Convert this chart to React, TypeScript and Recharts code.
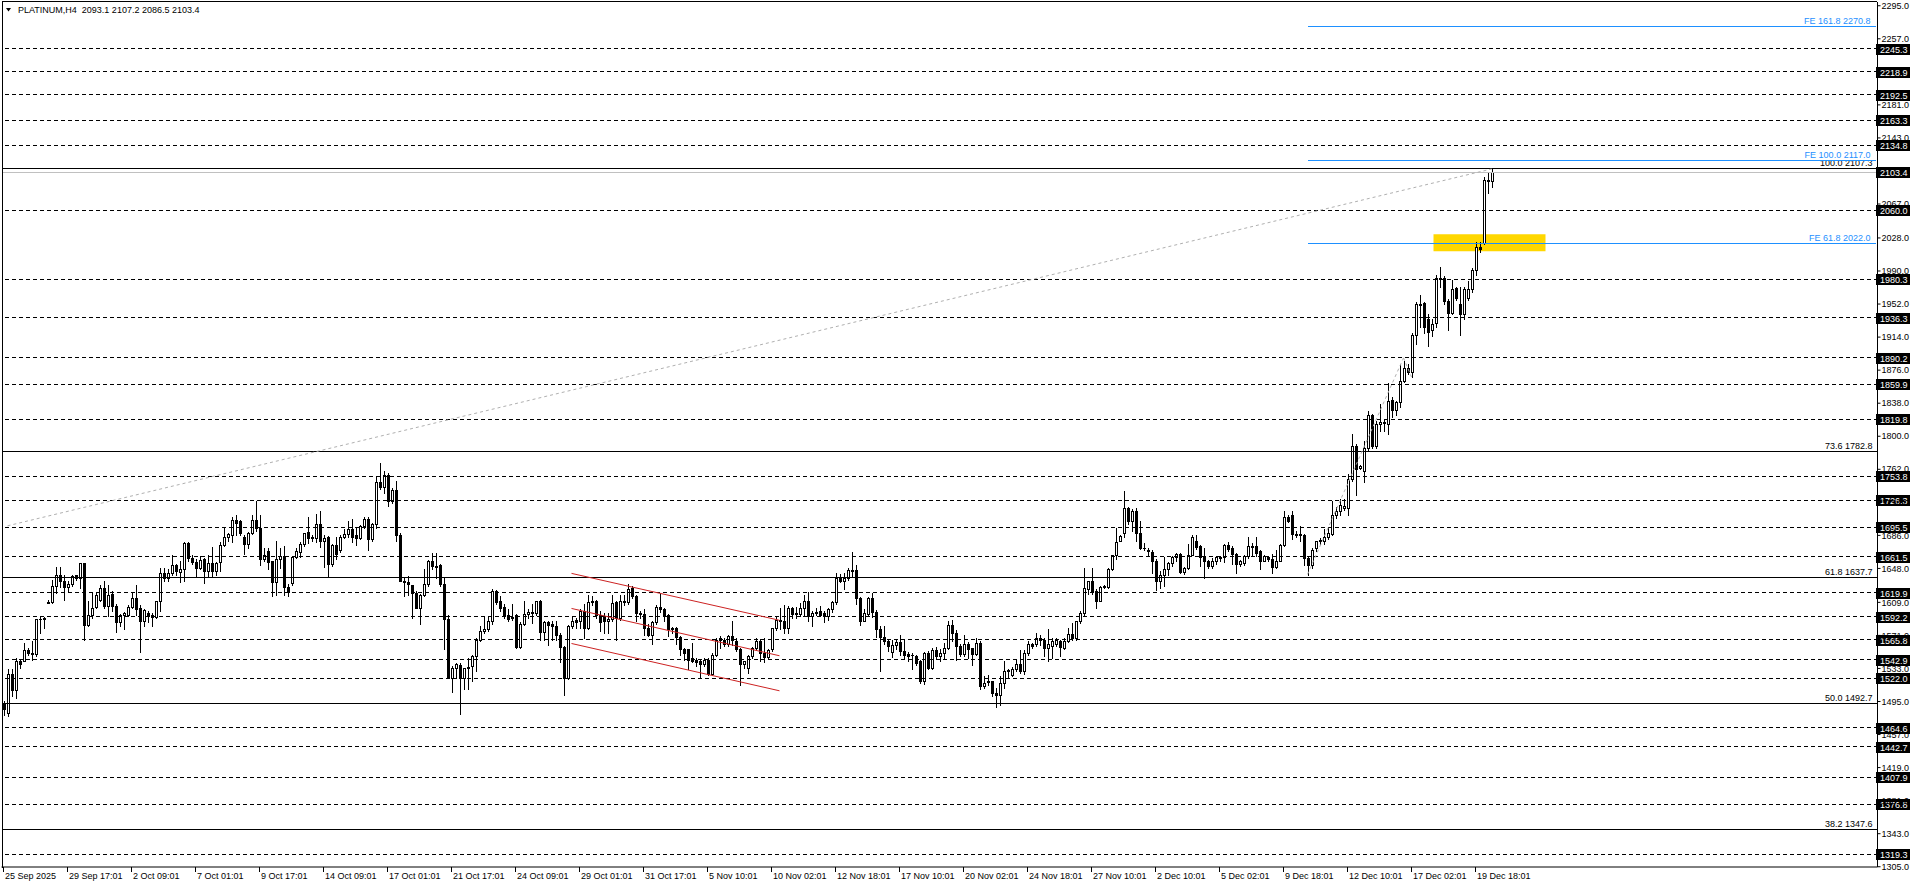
import React from 'react';
import { ComposedChart, Bar, XAxis, YAxis, ReferenceLine, ReferenceArea } from 'recharts';

const FONT = '"Liberation Sans", Arial, sans-serif';

// ---- H4 candles, PLATINUM (bars 0..372) ----
const opens = [
  1492,1482,1527,1508,1541,1542,1554,1551,1550,1590,
  1590,1608,1609,1628,1640,1634,1627,1630,1640,1637,
  1654,1583,1594,1604,1612,1626,1605,1619,1605,1586,
  1595,1595,1604,1614,1602,1587,1597,1595,1592,1610,
  1643,1637,1643,1652,1644,1647,1677,1660,1655,1649,
  1659,1645,1654,1645,1655,1675,1684,1687,1704,1703,
  1684,1676,1689,1704,1694,1659,1668,1656,1632,1659,
  1662,1627,1631,1661,1667,1676,1690,1684,1683,1699,
  1679,1684,1653,1675,1669,1684,1688,1693,1687,1683,
  1697,1705,1682,1699,1747,1742,1755,1725,1738,1687,
  1634,1632,1629,1620,1603,1618,1630,1657,1651,1652,
  1630,1590,1522,1534,1537,1522,1533,1536,1547,1566,
  1576,1578,1588,1622,1610,1604,1595,1592,1595,1558,
  1584,1596,1597,1597,1611,1575,1586,1584,1582,1572,
  1558,1522,1582,1589,1588,1599,1580,1609,1611,1595,
  1593,1588,1590,1609,1591,1610,1609,1626,1616,1597,
  1596,1580,1572,1586,1604,1601,1594,1578,1580,1569,
  1555,1555,1545,1543,1541,1538,1543,1527,1549,1566,
  1566,1561,1570,1565,1555,1538,1534,1547,1556,1565,
  1551,1546,1555,1579,1589,1588,1580,1602,1596,1596,
  1603,1611,1593,1597,1599,1597,1593,1601,1609,1637,
  1634,1637,1646,1646,1614,1588,1596,1614,1598,1578,
  1569,1564,1552,1560,1563,1553,1550,1548,1547,1541,
  1518,1551,1534,1554,1547,1551,1557,1583,1574,1559,
  1550,1561,1556,1550,1562,1513,1519,1518,1505,1502,
  1516,1530,1526,1532,1538,1530,1551,1561,1561,1568,
  1566,1556,1559,1561,1564,1557,1565,1573,1568,1587,
  1597,1624,1633,1622,1611,1627,1627,1647,1664,1680,
  1689,1718,1703,1714,1689,1672,1669,1667,1656,1634,
  1641,1647,1654,1661,1665,1644,1648,1664,1680,1674,
  1662,1656,1651,1657,1660,1661,1675,1672,1665,1653,
  1654,1662,1674,1674,1668,1657,1661,1659,1650,1657,
  1675,1707,1709,1688,1688,1687,1660,1652,1671,1680,
  1679,1684,1688,1709,1714,1717,1718,1751,1789,1764,
  1760,1787,1824,1789,1814,1816,1814,1842,1830,1839,
  1863,1879,1874,1916,1952,1953,1935,1922,1930,1982,
  1982,1956,1942,1970,1952,1940,1959,1969,1991,2018,
  2022,2095,2093.1,
];
const highs = [
  1495,1532,1532,1545,1544,1562,1556,1565,1590,1593,
  1592,1612,1635,1650,1650,1641,1634,1640,1641,1654,
  1654,1610,1620,1620,1629,1633,1629,1622,1607,1596,
  1598,1606,1621,1629,1606,1601,1599,1597,1611,1648,
  1649,1647,1663,1653,1657,1678,1678,1664,1659,1662,
  1660,1664,1673,1655,1678,1695,1689,1707,1710,1704,
  1687,1690,1710,1725,1710,1671,1672,1657,1679,1672,
  1674,1630,1662,1671,1678,1689,1707,1687,1711,1714,
  1687,1685,1676,1684,1687,1693,1703,1705,1695,1698,
  1707,1707,1700,1753,1769,1760,1758,1741,1749,1689,
  1637,1639,1629,1622,1619,1647,1658,1666,1666,1653,
  1637,1595,1536,1539,1539,1534,1545,1549,1568,1582,
  1593,1593,1624,1623,1616,1607,1601,1607,1596,1586,
  1611,1601,1607,1611,1612,1588,1588,1588,1587,1574,
  1559,1583,1593,1591,1601,1607,1618,1616,1612,1599,
  1597,1597,1618,1610,1618,1618,1630,1628,1618,1599,
  1601,1584,1588,1606,1620,1603,1596,1581,1581,1570,
  1557,1555,1562,1545,1543,1545,1545,1551,1568,1570,
  1568,1572,1588,1568,1557,1541,1549,1558,1568,1567,
  1568,1555,1580,1592,1602,1606,1605,1604,1604,1608,
  1618,1621,1599,1603,1605,1599,1603,1611,1643,1642,
  1643,1648,1667,1652,1615,1601,1615,1620,1600,1582,
  1582,1566,1566,1566,1572,1566,1552,1551,1549,1543,
  1552,1553,1556,1558,1555,1562,1588,1589,1577,1561,
  1571,1563,1557,1568,1564,1524,1526,1519,1511,1524,
  1541,1532,1535,1544,1554,1554,1564,1562,1574,1572,
  1568,1578,1568,1568,1566,1568,1580,1585,1588,1599,
  1649,1634,1649,1624,1628,1629,1649,1664,1695,1686,
  1737,1719,1716,1718,1703,1677,1671,1669,1659,1645,
  1661,1655,1662,1666,1666,1650,1676,1687,1687,1675,
  1672,1658,1660,1662,1662,1676,1678,1674,1666,1658,
  1664,1684,1677,1684,1669,1664,1662,1665,1669,1676,
  1714,1710,1714,1691,1697,1688,1662,1671,1680,1683,
  1693,1695,1726,1719,1728,1728,1757,1803,1791,1767,
  1795,1829,1826,1818,1837,1820,1861,1845,1841,1883,
  1887,1883,1919,1954,1962,1954,1941,1935,1985,1995,
  1984,1958,1980,1972,1972,1972,1979,1994,2023,2023,
  2098,2104,2107.2,
];
const lows = [
  1480,1478,1501,1499,1534,1541,1549,1543,1547,1574,
  1580,1608,1608,1620,1627,1612,1622,1628,1635,1626,
  1566,1582,1591,1602,1610,1603,1593,1599,1575,1582,
  1578,1593,1603,1595,1552,1582,1586,1582,1591,1599,
  1634,1634,1641,1641,1632,1634,1657,1653,1638,1647,
  1631,1638,1638,1641,1645,1674,1680,1678,1687,1687,
  1665,1671,1688,1691,1652,1657,1647,1616,1618,1649,
  1618,1616,1629,1660,1661,1674,1677,1680,1678,1673,
  1650,1639,1651,1659,1667,1683,1684,1678,1675,1682,
  1695,1669,1680,1695,1739,1735,1720,1723,1679,1633,
  1616,1618,1591,1603,1584,1616,1628,1647,1637,1628,
  1555,1522,1506,1522,1481,1509,1509,1518,1530,1564,
  1574,1576,1584,1607,1599,1591,1588,1589,1557,1556,
  1583,1591,1585,1595,1566,1566,1560,1566,1566,1540,
  1502,1521,1580,1580,1580,1568,1578,1606,1591,1576,
  1574,1574,1588,1566,1589,1606,1607,1614,1588,1591,
  1572,1570,1561,1584,1598,1588,1570,1574,1561,1549,
  1543,1532,1540,1536,1522,1536,1526,1526,1547,1557,
  1559,1559,1560,1553,1514,1534,1528,1545,1555,1541,
  1540,1545,1553,1577,1578,1574,1574,1591,1591,1593,
  1595,1588,1582,1595,1593,1586,1589,1598,1607,1632,
  1624,1635,1639,1607,1583,1587,1593,1592,1569,1530,
  1561,1553,1546,1555,1549,1545,1541,1532,1537,1516,
  1515,1532,1532,1545,1541,1545,1555,1564,1543,1547,
  1547,1545,1537,1548,1509,1511,1514,1501,1489,1491,
  1511,1522,1524,1530,1528,1527,1549,1556,1559,1560,
  1547,1541,1545,1559,1547,1555,1563,1566,1566,1585,
  1595,1619,1619,1603,1610,1626,1625,1646,1659,1679,
  1684,1699,1691,1680,1670,1669,1662,1643,1623,1626,
  1628,1641,1651,1657,1643,1642,1647,1663,1670,1651,
  1637,1648,1648,1653,1656,1655,1668,1653,1643,1651,
  1652,1660,1662,1662,1647,1656,1656,1643,1649,1656,
  1674,1701,1682,1684,1680,1652,1641,1649,1668,1676,
  1676,1682,1686,1706,1710,1715,1709,1748,1732,1762,
  1747,1783,1786,1786,1806,1806,1803,1822,1824,1834,
  1862,1872,1868,1906,1926,1919,1904,1915,1926,1972,
  1952,1922,1941,1957,1916,1935,1957,1966,1985,2012,
  2021,2080,2086.5,
];
const closes = [
  1486,1527,1508,1541,1538,1554,1551,1550,1590,1590,
  1591,1609,1628,1640,1633,1627,1630,1639,1637,1654,
  1583,1595,1603,1617,1626,1605,1617,1605,1586,1595,
  1597,1604,1614,1601,1587,1600,1593,1592,1610,1643,
  1637,1643,1652,1645,1647,1677,1660,1655,1649,1658,
  1645,1654,1645,1654,1675,1684,1688,1704,1700,1689,
  1676,1689,1704,1694,1659,1664,1655,1632,1659,1662,
  1627,1621,1661,1668,1676,1689,1683,1683,1699,1679,
  1683,1653,1675,1665,1684,1688,1693,1684,1683,1697,
  1705,1682,1699,1747,1742,1755,1725,1738,1687,1634,
  1632,1630,1620,1603,1618,1630,1657,1651,1650,1630,
  1590,1522,1534,1538,1522,1533,1535,1547,1566,1576,
  1578,1588,1622,1609,1603,1595,1590,1591,1558,1584,
  1596,1598,1598,1610,1575,1586,1583,1582,1572,1558,
  1522,1582,1588,1586,1599,1580,1609,1611,1595,1586,
  1588,1590,1608,1591,1610,1609,1624,1616,1597,1596,
  1580,1572,1586,1604,1601,1593,1578,1580,1569,1555,
  1551,1543,1542,1540,1538,1543,1527,1549,1566,1568,
  1561,1570,1566,1555,1538,1541,1547,1556,1565,1551,
  1546,1554,1579,1589,1588,1580,1603,1596,1597,1603,
  1611,1593,1597,1598,1595,1593,1601,1609,1637,1633,
  1637,1646,1645,1614,1588,1597,1614,1598,1578,1569,
  1564,1559,1560,1563,1553,1548,1547,1549,1539,1519,
  1551,1534,1554,1547,1551,1557,1583,1574,1559,1550,
  1561,1555,1550,1562,1513,1516,1517,1505,1502,1516,
  1530,1531,1532,1538,1530,1551,1561,1559,1568,1566,
  1556,1561,1565,1566,1558,1565,1573,1568,1587,1597,
  1625,1633,1621,1611,1627,1628,1647,1664,1678,1685,
  1718,1703,1714,1689,1672,1672,1668,1656,1634,1641,
  1647,1654,1661,1665,1644,1649,1664,1684,1673,1661,
  1656,1651,1657,1661,1661,1675,1670,1665,1653,1656,
  1662,1674,1673,1666,1657,1662,1659,1650,1657,1675,
  1707,1703,1688,1687,1687,1660,1652,1669,1680,1681,
  1684,1689,1709,1714,1721,1720,1751,1789,1762,1766,
  1787,1824,1789,1814,1816,1815,1841,1830,1839,1863,
  1879,1874,1916,1952,1951,1926,1920,1929,1982,1981,
  1955,1942,1969,1959,1940,1969,1969,1991,2018,2015,
  2095,2093,2103.4,
];

// time axis labels, one every 16 bars starting at bar 0
const tickLabels = [
  '25 Sep 2025', '29 Sep 17:01', '2 Oct 09:01', '7 Oct 01:01', '9 Oct 17:01', '14 Oct 09:01',
  '17 Oct 01:01', '21 Oct 17:01', '24 Oct 09:01', '29 Oct 01:01', '31 Oct 17:01', '5 Nov 10:01',
  '10 Nov 02:01', '12 Nov 18:01', '17 Nov 10:01', '20 Nov 02:01', '24 Nov 18:01', '27 Nov 10:01',
  '2 Dec 10:01', '5 Dec 02:01', '9 Dec 18:01', '12 Dec 10:01', '17 Dec 02:01', '19 Dec 18:01',
];
const TICK_STEP = 16;
const TOTAL_SLOTS = 469; // bars + empty space to the right

// price scale
const Y_MIN = 1304.7;
const Y_MAX = 2299.3;
const yTicks = [
  2295.0, 2257.0, 2181.0, 2143.0, 2067.0, 2028.0, 1990.0, 1952.0, 1914.0, 1876.0, 1838.0, 1800.0,
  1762.0, 1724.0, 1686.0, 1648.0, 1609.0, 1571.0, 1533.0, 1495.0, 1457.0, 1419.0, 1381.0, 1343.0, 1305.0,
];

// horizontal dashed levels (with black price boxes)
const levelLines = [
  2245.3, 2218.9, 2192.5, 2163.3, 2134.8, 2060.0, 1980.3, 1936.3, 1890.2, 1859.9, 1819.8, 1753.8,
  1726.3, 1695.5, 1661.5, 1619.9, 1592.2, 1565.8, 1542.9, 1522.0, 1464.6, 1442.7, 1407.9, 1376.8, 1319.3,
];
// Fibonacci retracement
const fibPct = ['100.0', '73.6', '61.8', '50.0', '38.2'];
const fibPrice = [2107.3, 1782.8, 1637.7, 1492.7, 1347.6];
// Fibonacci expansion
const fePct = ['61.8', '100.0', '161.8'];
const fePrice = [2022.0, 2117.0, 2270.8];
const feStartBar = 326;
// fib anchors / trend segments: [bar1, price1, bar2, price2]
const grayTrends = [
  [1, 1697, 372, 2107.3],
  [326, 1641.2, 350, 1890.1],
  [350, 1890.1, 352, 1868.1],
];
// red channel: [bar1, price1, bar2, price2]
const channel = [
  [142, 1642.3, 194, 1588.4],
  [142, 1602.0, 194, 1547.6],
  [142, 1561.7, 194, 1507.3],
];
// yellow zone
const zone = { fromBar: 358, toBar: 385, low: 2012.6, high: 2032.2 };
const bidPrice = 2103.4;

const data = Array.from({ length: TOTAL_SLOTS }, (_, i) =>
  i < opens.length
    ? { i, range: [lows[i], highs[i]], o: opens[i], h: highs[i], l: lows[i], c: closes[i] }
    : { i, range: null }
);

function Candle(props: any) {
  const { x, y, width, height, payload } = props;
  if (!payload || payload.o == null || x == null || y == null) return null;
  const { o, h, l, c } = payload;
  const top = Math.min(y, y + height);
  const bottom = Math.max(y, y + height);
  const span = h - l;
  const py = (p: number) => (span > 0 ? top + ((h - p) / span) * (bottom - top) : top);
  const cx = Math.floor(x + width / 2 + 0.01) + 0.5;
  const yH = Math.round(top);
  const yL = Math.round(bottom);
  const yO = Math.round(py(o));
  const yC = Math.round(py(c));
  const bTop = Math.min(yO, yC);
  const bBot = Math.max(yO, yC);
  const bull = c >= o;
  return (
    <g shapeRendering="crispEdges">
      <line x1={cx} x2={cx} y1={yH} y2={yL + 1} stroke="#000" strokeWidth={1} />
      {bBot - bTop < 1 ? (
        <line x1={cx - 1.5} x2={cx + 1.5} y1={bTop + 0.5} y2={bTop + 0.5} stroke="#000" strokeWidth={1} />
      ) : (
        <rect x={cx - 1} y={bTop + 0.5} width={2} height={bBot - bTop} fill={bull ? '#fff' : '#000'} stroke="#000" strokeWidth={1} />
      )}
    </g>
  );
}

function DateTick(props: any) {
  const { x, y, payload } = props;
  const idx = Number(payload?.value);
  if (!Number.isFinite(idx) || idx % TICK_STEP !== 0) return null;
  const label = tickLabels[idx / TICK_STEP];
  if (!label) return null;
  const tx = Math.floor(x) + 0.5;
  return (
    <g>
      <line x1={tx} x2={tx} y1={y - 4} y2={y + 1} stroke="#000" shapeRendering="crispEdges" />
      <text x={tx + 1.5} y={y + 7.5} fontSize={9} fontFamily={FONT} fill="#000">{label}</text>
    </g>
  );
}

function AxisBox(props: any) {
  const { viewBox, text } = props;
  if (!viewBox) return null;
  const x = viewBox.x + viewBox.width;
  const yc = Math.round(viewBox.y);
  return (
    <g>
      <rect x={x - 1.5} y={yc - 5} width={34} height={11} fill="#000" />
      <text x={x + 2.5} y={yc + 3.5} fontSize={9} fontFamily={FONT} fill="#fff">{text}</text>
    </g>
  );
}

function RightText(props: any) {
  const { viewBox, text, color } = props;
  if (!viewBox) return null;
  const x = viewBox.x + viewBox.width - 5;
  const y = viewBox.y - 2.5;
  return (
    <text x={x} y={y} textAnchor="end" fontSize={9} fontFamily={FONT} fill={color}>{text}</text>
  );
}

export default function App() {
  const last = opens.length - 1;
  const header = `PLATINUM,H4  ${opens[last].toFixed(1)} ${highs[last].toFixed(1)} ${lows[last].toFixed(1)} ${closes[last].toFixed(1)}`;
  return (
    <div style={{ position: 'absolute', left: 0, top: 0, width: 1916, height: 888, background: '#fff', overflow: 'hidden' }}>
      <ComposedChart width={1916} height={888} data={data} margin={{ top: 2, right: 0, bottom: 0, left: 1.5 }}>
        <XAxis
          dataKey="i"
          type="category"
          interval={TICK_STEP - 1}
          height={21}
          tickSize={4}
          tickMargin={0}
          tickLine={false}
          axisLine={{ stroke: '#000' }}
          tick={<DateTick />}
        />
        <YAxis
          orientation="right"
          type="number"
          domain={[Y_MIN, Y_MAX]}
          allowDataOverflow
          ticks={yTicks}
          interval={0}
          width={38.5}
          tickSize={3}
          tickMargin={1}
          tick={{ fontSize: 9, fill: '#000', fontFamily: FONT }}
          tickFormatter={(v: number) => v.toFixed(1)}
          axisLine={{ stroke: '#000' }}
          tickLine={{ stroke: '#000' }}
        />
        <ReferenceArea x1={zone.fromBar} x2={zone.toBar} y1={zone.low} y2={zone.high} fill="#FFD700" fillOpacity={1} stroke="none" />
        {levelLines.map((v) => (
          <ReferenceLine key={'lv' + v} y={v} stroke="#000" strokeWidth={1} strokeDasharray="4 3" shapeRendering="crispEdges" label={<AxisBox text={v.toFixed(1)} />} />
        ))}
        <ReferenceLine y={bidPrice} stroke="#C0C0C0" strokeWidth={1} shapeRendering="crispEdges" label={<AxisBox text={bidPrice.toFixed(1)} />} />
        {fibPrice.map((v, k) => (
          <ReferenceLine key={'fib' + k} y={v} stroke="#000" strokeWidth={1} shapeRendering="crispEdges" label={<RightText text={`${fibPct[k]} ${v.toFixed(1)}`} color="#000" />} />
        ))}
        {fePrice.map((v, k) => (
          <ReferenceLine
            key={'fe' + k}
            segment={[{ x: feStartBar, y: v }, { x: TOTAL_SLOTS - 1, y: v }]}
            stroke="#1E90FF"
            strokeWidth={1}
            shapeRendering="crispEdges"
            label={<RightText text={`FE ${fePct[k]} ${v.toFixed(1)}`} color="#1E90FF" />}
          />
        ))}
        {grayTrends.map((t, k) => (
          <ReferenceLine key={'gt' + k} segment={[{ x: t[0], y: t[1] }, { x: t[2], y: t[3] }]} stroke="#B0B0B0" strokeWidth={1} strokeDasharray="3 3" />
        ))}
        {channel.map((t, k) => (
          <ReferenceLine key={'ch' + k} segment={[{ x: t[0], y: t[1] }, { x: t[2], y: t[3] }]} stroke="#CC2222" strokeWidth={1} />
        ))}
        <Bar dataKey="range" barSize={3} shape={<Candle />} isAnimationActive={false} />
      </ComposedChart>
      <div style={{ position: 'absolute', left: 2, top: 1, width: 1874, height: 866, borderLeft: '1px solid #000', borderTop: '1px solid #000', pointerEvents: 'none' }} />
      <svg style={{ position: 'absolute', left: 0, top: 0 }} width={14} height={16}>
        <polygon points="6,8 11,8 8.5,11.5" fill="#000" />
      </svg>
      <div style={{ position: 'absolute', left: 18, top: 5, fontFamily: FONT, fontSize: 9, lineHeight: '10px', color: '#000', whiteSpace: 'pre' }}>
        {header}
      </div>
    </div>
  );
}
